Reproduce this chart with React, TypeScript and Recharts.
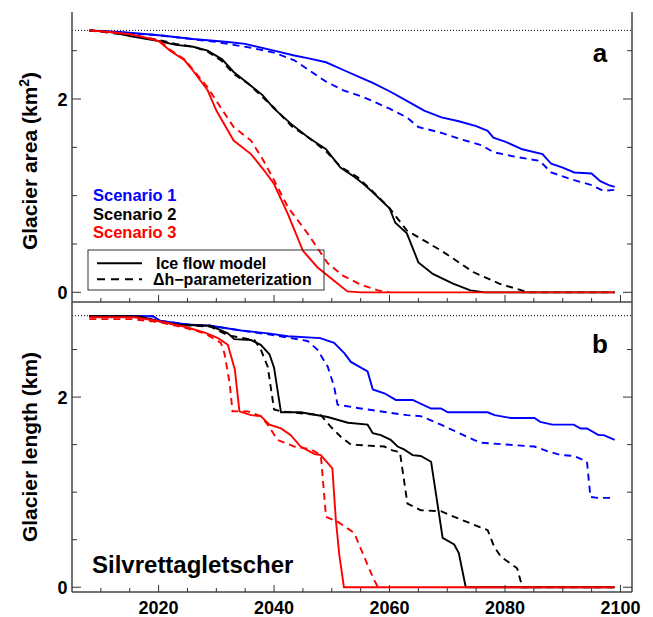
import { LineChart, Line, XAxis, YAxis, ReferenceLine } from 'recharts'

type Pt = [number, number]

const FONT = '"Liberation Sans", Arial, Helvetica, sans-serif'
const BLUE = '#0000ff'
const BLACK = '#000000'
const RED = '#ff0000'

const YEAR_TICKS = [2010, 2015, 2020, 2025, 2030, 2035, 2040, 2045, 2050, 2055, 2060, 2065, 2070, 2075, 2080, 2085, 2090, 2095, 2100]
const VALUE_TICKS = [0, 0.5, 1, 1.5, 2, 2.5]
const AREA_INITIAL = 2.71
const LENGTH_INITIAL = 2.856

// glacier area (km2)
const AREA_S1_ICE: Pt[] = [[2008, 2.71], [2014, 2.69], [2020, 2.66], [2026, 2.62], [2032, 2.59], [2035, 2.57], [2040, 2.5], [2043.5, 2.45], [2046, 2.42], [2049, 2.38], [2052, 2.3], [2055, 2.22], [2057, 2.17], [2060, 2.08], [2063, 1.98], [2066, 1.88], [2069, 1.81], [2072, 1.77], [2075, 1.72], [2077, 1.67], [2078, 1.6], [2080, 1.56], [2083, 1.48], [2086.5, 1.43], [2088, 1.33], [2090, 1.29], [2092, 1.24], [2095, 1.23], [2096.5, 1.15], [2098, 1.11], [2099, 1.09]]
const AREA_S1_DH: Pt[] = [[2008, 2.71], [2020, 2.66], [2030, 2.59], [2033, 2.56], [2036, 2.53], [2040, 2.48], [2043.5, 2.4], [2046, 2.3], [2049, 2.18], [2052, 2.09], [2055, 2.03], [2057, 1.98], [2060, 1.9], [2063, 1.81], [2065, 1.71], [2069, 1.65], [2072, 1.59], [2076, 1.52], [2078, 1.45], [2082, 1.4], [2086, 1.36], [2088, 1.24], [2092, 1.16], [2095, 1.11], [2097, 1.05], [2099, 1.06]]
const AREA_S2_ICE: Pt[] = [[2008, 2.71], [2012, 2.69], [2015, 2.65], [2020, 2.6], [2023, 2.56], [2026, 2.54], [2028.5, 2.5], [2031, 2.41], [2033, 2.28], [2035.5, 2.16], [2038, 2.04], [2040, 1.9], [2043, 1.74], [2046, 1.6], [2049, 1.48], [2051.5, 1.29], [2054, 1.19], [2055.5, 1.12], [2057, 1.04], [2060, 0.87], [2061, 0.72], [2063, 0.61], [2065, 0.31], [2067.5, 0.19], [2071, 0.09], [2074, 0.02], [2076.5, 0], [2099, 0]]
const AREA_S2_DH: Pt[] = [[2008, 2.71], [2015, 2.66], [2020, 2.61], [2023, 2.57], [2026, 2.54], [2028.5, 2.49], [2031, 2.39], [2033, 2.26], [2035.5, 2.16], [2038, 2.02], [2040, 1.91], [2043, 1.72], [2046, 1.6], [2049, 1.46], [2051.5, 1.3], [2054.5, 1.19], [2057, 1.05], [2060, 0.87], [2063, 0.64], [2069, 0.43], [2074.5, 0.21], [2079, 0.09], [2084, 0], [2099, 0]]
const AREA_S3_ICE: Pt[] = [[2008, 2.71], [2012, 2.69], [2015, 2.67], [2017.5, 2.64], [2020, 2.6], [2022, 2.5], [2024.5, 2.4], [2026, 2.29], [2028.5, 2.09], [2030, 1.88], [2033, 1.57], [2036, 1.43], [2038.3, 1.26], [2040, 1.12], [2042.4, 0.81], [2045, 0.43], [2047.5, 0.26], [2050.4, 0.12], [2052.7, 0.01], [2055, 0], [2099, 0]]
const AREA_S3_DH: Pt[] = [[2008, 2.71], [2015, 2.67], [2020, 2.61], [2022, 2.51], [2024.5, 2.41], [2026, 2.3], [2028.5, 2.12], [2030, 1.98], [2033, 1.71], [2036, 1.57], [2038, 1.38], [2040, 1.16], [2042.4, 0.88], [2045.8, 0.61], [2049.3, 0.3], [2052, 0.17], [2055, 0.08], [2058, 0.02], [2060, 0]]

// glacier length (km)
const LEN_S1_ICE: Pt[] = [[2008, 2.85], [2019, 2.85], [2020.4, 2.8], [2025.6, 2.76], [2029, 2.75], [2034.3, 2.7], [2039, 2.67], [2042.4, 2.64], [2048, 2.62], [2050.4, 2.57], [2052.2, 2.46], [2053.3, 2.37], [2056.2, 2.27], [2057.1, 2.08], [2059.1, 2.04], [2061.1, 1.97], [2064, 1.97], [2067.2, 1.88], [2068.9, 1.88], [2070.1, 1.84], [2077, 1.84], [2078.2, 1.81], [2081, 1.78], [2085.1, 1.78], [2086.1, 1.74], [2088.2, 1.71], [2091.9, 1.71], [2093.1, 1.67], [2094.2, 1.67], [2096.2, 1.6], [2097.1, 1.6], [2099, 1.55]]
const LEN_S1_DH: Pt[] = [[2008, 2.85], [2019, 2.85], [2020.4, 2.8], [2025.6, 2.76], [2029, 2.75], [2034.3, 2.7], [2039, 2.66], [2042.9, 2.62], [2045.8, 2.59], [2047.5, 2.5], [2049.3, 2.32], [2050.4, 2.11], [2051, 1.92], [2055, 1.88], [2063, 1.81], [2065.4, 1.8], [2068.9, 1.71], [2074.6, 1.55], [2075.8, 1.52], [2085.1, 1.48], [2087.4, 1.43], [2089.7, 1.39], [2092, 1.38], [2094.2, 1.32], [2094.8, 0.95], [2096, 0.94], [2099, 0.94]]
const LEN_S2_ICE: Pt[] = [[2008, 2.85], [2016.4, 2.85], [2019.9, 2.8], [2023.3, 2.76], [2029, 2.75], [2032, 2.67], [2033.1, 2.61], [2036, 2.6], [2037.7, 2.55], [2039.2, 2.45], [2040, 2.31], [2041.2, 1.84], [2044.6, 1.84], [2049.3, 1.79], [2052.8, 1.73], [2056.2, 1.71], [2057.1, 1.62], [2058.5, 1.6], [2060.2, 1.55], [2061.4, 1.48], [2062.5, 1.45], [2064, 1.39], [2065.4, 1.38], [2067.2, 1.32], [2069.2, 0.52], [2071.2, 0.45], [2072, 0.36], [2073.2, 0], [2099, 0]]
const LEN_S2_DH: Pt[] = [[2008, 2.85], [2016, 2.85], [2020, 2.8], [2023.3, 2.76], [2029, 2.74], [2032, 2.65], [2036.6, 2.6], [2037.7, 2.5], [2038.9, 2.32], [2040, 1.87], [2041.2, 1.85], [2048.1, 1.81], [2049.8, 1.69], [2051.6, 1.58], [2053.3, 1.5], [2059.1, 1.48], [2060.5, 1.44], [2061.8, 1.42], [2063.1, 0.88], [2065.4, 0.81], [2068.9, 0.8], [2071.2, 0.74], [2077, 0.6], [2078.1, 0.43], [2079.3, 0.32], [2082.1, 0.2], [2083, 0], [2099, 0]]
const LEN_S3_ICE: Pt[] = [[2008, 2.84], [2015.8, 2.84], [2019.9, 2.8], [2024.5, 2.74], [2027.9, 2.68], [2030.3, 2.62], [2032, 2.55], [2033.2, 2.29], [2034, 1.85], [2036, 1.81], [2037.7, 1.8], [2039.2, 1.71], [2041.2, 1.67], [2042.9, 1.6], [2044.6, 1.48], [2047, 1.4], [2048.1, 1.39], [2050.1, 1.25], [2050.7, 0.71], [2051.3, 0.34], [2052.1, 0], [2099, 0]]
const LEN_S3_DH: Pt[] = [[2008, 2.82], [2015.2, 2.82], [2020, 2.79], [2024.5, 2.73], [2028, 2.67], [2030.8, 2.57], [2031.4, 2.46], [2032.3, 2.15], [2032.8, 1.85], [2035.4, 1.85], [2037.7, 1.8], [2038.9, 1.71], [2040.6, 1.55], [2043.5, 1.48], [2046.4, 1.45], [2048.1, 1.39], [2049, 0.74], [2051, 0.69], [2053.9, 0.57], [2055.6, 0.32], [2057.3, 0.08], [2058, 0]]

type Series = { id: string; color: string; dashed: boolean; pts: Pt[] }

const AREA_SERIES: Series[] = [
  { id: 'a1', color: BLUE, dashed: false, pts: AREA_S1_ICE },
  { id: 'a1d', color: BLUE, dashed: true, pts: AREA_S1_DH },
  { id: 'a2', color: BLACK, dashed: false, pts: AREA_S2_ICE },
  { id: 'a2d', color: BLACK, dashed: true, pts: AREA_S2_DH },
  { id: 'a3', color: RED, dashed: false, pts: AREA_S3_ICE },
  { id: 'a3d', color: RED, dashed: true, pts: AREA_S3_DH },
]
const LEN_SERIES: Series[] = [
  { id: 'l1', color: BLUE, dashed: false, pts: LEN_S1_ICE },
  { id: 'l1d', color: BLUE, dashed: true, pts: LEN_S1_DH },
  { id: 'l2', color: BLACK, dashed: false, pts: LEN_S2_ICE },
  { id: 'l2d', color: BLACK, dashed: true, pts: LEN_S2_DH },
  { id: 'l3', color: RED, dashed: false, pts: LEN_S3_ICE },
  { id: 'l3d', color: RED, dashed: true, pts: LEN_S3_DH },
]

const AXIS_LINE = { stroke: '#444', strokeWidth: 1.5 }
const TICK_COLOR = '#333'

function XTick(props: any) {
  const { x, y, payload, side, showLabel } = props
  const major = payload.value % 20 === 0
  const len = major ? 7 : 4
  const dir = side === 'top' ? 1 : -1
  return (
    <g>
      <line x1={x} y1={y} x2={x} y2={y + dir * len} stroke={TICK_COLOR} strokeWidth={1} />
      {showLabel && major && (
        <text x={x} y={y + 22} textAnchor="middle" fontSize={18} fontWeight="bold" fontFamily={FONT} fill="#000">
          {payload.value}
        </text>
      )}
    </g>
  )
}

function YTick(props: any) {
  const { x, y, payload, side } = props
  const major = payload.value === 0 || payload.value === 2
  const len = major ? 9 : 5
  const dir = side === 'right' ? -1 : 1
  return (
    <g>
      <line x1={x} y1={y} x2={x + dir * len} y2={y} stroke={TICK_COLOR} strokeWidth={1} />
      {side === 'left' && major && (
        <text x={x - 4.5} y={y + 7} textAnchor="end" fontSize={18} fontWeight="bold" fontFamily={FONT} fill="#000">
          {payload.value}
        </text>
      )}
    </g>
  )
}

function Panel({ series, domain, refValue, height, marginTop, bottomHeight, showXLabels }: {
  series: Series[]
  domain: [number, number]
  refValue: number
  height: number
  marginTop: number
  bottomHeight: number
  showXLabels: boolean
}) {
  return (
    <LineChart width={653} height={height} margin={{ top: marginTop, right: 0, bottom: 0, left: 0 }}>
      <XAxis
        xAxisId="b"
        dataKey="t"
        type="number"
        domain={[2005, 2102]}
        allowDataOverflow
        ticks={YEAR_TICKS}
        interval={0}
        height={bottomHeight}
        axisLine={AXIS_LINE}
        tickLine={false}
        tickSize={0}
        tickMargin={0}
        tick={(p: any) => <XTick {...p} side="bottom" showLabel={showXLabels} />}
      />
      <XAxis
        xAxisId="t"
        orientation="top"
        dataKey="t"
        type="number"
        domain={[2005, 2102]}
        allowDataOverflow
        ticks={YEAR_TICKS}
        interval={0}
        height={0}
        axisLine={AXIS_LINE}
        tickLine={false}
        tickSize={0}
        tickMargin={0}
        tick={(p: any) => <XTick {...p} side="top" showLabel={false} />}
      />
      <YAxis
        yAxisId="l"
        type="number"
        domain={domain}
        allowDataOverflow
        ticks={VALUE_TICKS}
        interval={0}
        width={72}
        axisLine={AXIS_LINE}
        tickLine={false}
        tickSize={0}
        tickMargin={0}
        tick={(p: any) => <YTick {...p} side="left" />}
      />
      <YAxis
        yAxisId="r"
        orientation="right"
        type="number"
        domain={domain}
        allowDataOverflow
        ticks={VALUE_TICKS}
        interval={0}
        width={21}
        axisLine={AXIS_LINE}
        tickLine={false}
        tickSize={0}
        tickMargin={0}
        tick={(p: any) => <YTick {...p} side="right" />}
      />
      <ReferenceLine xAxisId="b" yAxisId="l" y={refValue} stroke="#000" strokeWidth={1} strokeDasharray="1 2" />
      {series.map(s => (
        <Line
          key={s.id}
          xAxisId="b"
          yAxisId="l"
          data={s.pts.map(([t, v]) => ({ t, v }))}
          dataKey="v"
          type="linear"
          stroke={s.color}
          strokeWidth={1.9}
          strokeDasharray={s.dashed ? '7 5' : undefined}
          dot={false}
          activeDot={false}
          isAnimationActive={false}
        />
      ))}
    </LineChart>
  )
}

const txt = { fontFamily: FONT, fontWeight: 'bold' as const }

export default function App() {
  return (
    <div style={{ position: 'absolute', left: 0, top: 0, width: 653, height: 617, background: '#fff' }}>
      <div style={{ position: 'absolute', left: 0, top: 0 }}>
        <Panel series={AREA_SERIES} domain={[-0.1, 2.9]} refValue={AREA_INITIAL} height={310} marginTop={12} bottomHeight={8} showXLabels={false} />
      </div>
      <div style={{ position: 'absolute', left: 0, top: 290 }}>
        <Panel series={LEN_SERIES} domain={[-0.05, 3.0]} refValue={LENGTH_INITIAL} height={327} marginTop={12} bottomHeight={25} showXLabels />
      </div>
      <svg width={653} height={617} style={{ position: 'absolute', left: 0, top: 0, pointerEvents: 'none' }}>
        <text transform="rotate(-90 37 161)" x={37} y={161} textAnchor="middle" fontSize={21} {...txt}>
          Glacier area (km<tspan dy={-8} fontSize={14}>2</tspan><tspan dy={8}>)</tspan>
        </text>
        <text transform="rotate(-90 37 447)" x={37} y={447} textAnchor="middle" fontSize={21} {...txt}>
          Glacier length (km)
        </text>
        <text x={600} y={62} textAnchor="middle" fontSize={26} {...txt}>a</text>
        <text x={600} y={353} textAnchor="middle" fontSize={26} {...txt}>b</text>
        <text x={93} y={200.5} fontSize={16.5} fill={BLUE} {...txt}>Scenario 1</text>
        <text x={93} y={219.5} fontSize={16.5} fill={BLACK} {...txt}>Scenario 2</text>
        <text x={93} y={237.5} fontSize={16.5} fill={RED} {...txt}>Scenario 3</text>
        <rect x={88} y={250} width={236} height={40} fill="none" stroke="#333" strokeWidth={1} />
        <line x1={97} y1={263.3} x2={142} y2={263.3} stroke="#000" strokeWidth={2} />
        <line x1={97} y1={279.3} x2={142} y2={279.3} stroke="#000" strokeWidth={2} strokeDasharray="8 6" />
        <text x={156} y={268.5} fontSize={16} {...txt}>Ice flow model</text>
        <text x={153} y={284.5} fontSize={16} {...txt}>Δh−parameterization</text>
        <text x={92} y={573} fontSize={24} {...txt}>Silvrettagletscher</text>
      </svg>
    </div>
  )
}
